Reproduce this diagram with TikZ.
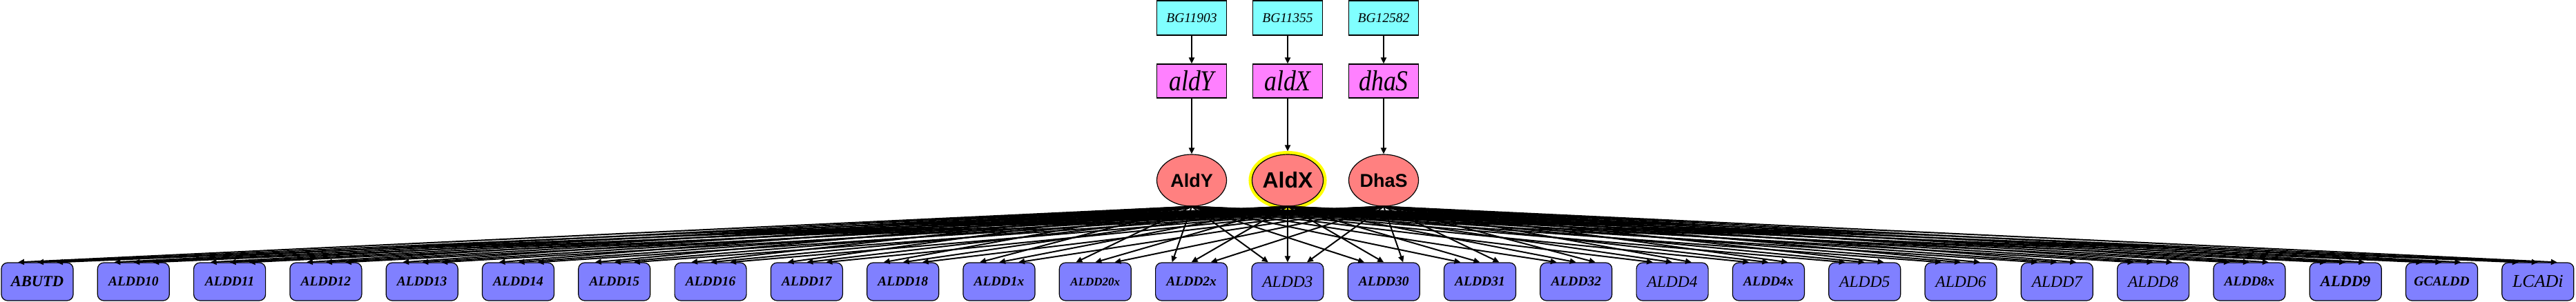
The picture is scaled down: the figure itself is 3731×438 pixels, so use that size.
\documentclass[tikz,border=0pt]{standalone}
\usepackage{fontspec}
\setmainfont{Liberation Serif}
\newfontfamily\arialfont{Liberation Sans}
\usetikzlibrary{shapes.geometric,arrows.meta}
\definecolor{cyanfill}{HTML}{80FFFF}
\definecolor{pinkfill}{HTML}{FF80FF}
\definecolor{salmonfill}{HTML}{FF8080}
\definecolor{bluefill}{HTML}{8080FF}
\definecolor{ringyellow}{HTML}{FFFF00}
\tikzset{
  genebox/.style={rectangle, draw=black, line width=1.2pt, fill=cyanfill, minimum width=101pt, minimum height=50pt, inner sep=0pt, font=\fontsize{19.5}{19.5}\selectfont\itshape},
  namebox/.style={rectangle, draw=black, line width=1.2pt, fill=pinkfill, minimum width=101pt, minimum height=49pt, inner sep=0pt, font=\fontsize{42}{42}\selectfont\itshape},
  protein/.style={ellipse, draw=black, line width=1.2pt, fill=salmonfill, minimum width=101pt, minimum height=75pt, inner sep=0pt},
  rxnbox/.style={rectangle, rounded corners=9pt, draw=black, line width=1.2pt, fill=bluefill, minimum width=104pt, minimum height=55pt, inner sep=0pt},
  fBold/.style={font=\fontsize{19.5}{19.5}\selectfont\bfseries\itshape},
  fBoldS/.style={font=\fontsize{17}{17}\selectfont\bfseries\itshape},
  fBoldL/.style={font=\fontsize{22.5}{22.5}\selectfont\bfseries\itshape},
  fReg/.style={font=\fontsize{23.5}{23.5}\selectfont\itshape},
  fRegL/.style={font=\fontsize{26}{26}\selectfont\itshape},
  edge/.style={draw=black, line width=2pt, -{Triangle[length=9pt,width=8pt]}},
}
\begin{document}
\begin{tikzpicture}[x=1pt,y=-1pt]
\fill[white] (0,0) rectangle (3731,438);
\useasboundingbox (0,0) rectangle (3731,438);
% genes
\node[genebox] (g1) at (1726,26) {BG11903};
\node[genebox] (g2) at (1865,26) {BG11355};
\node[genebox] (g3) at (2004,26) {BG12582};
\node[namebox] (n1) at (1726,117.5) {\scalebox{0.85}[1]{aldY}};
\node[namebox] (n2) at (1865,117.5) {\scalebox{0.85}[1]{aldX}};
\node[namebox] (n3) at (2004,117.5) {\scalebox{0.85}[1]{dhaS}};
\node[protein, font=\arialfont\bfseries\fontsize{27}{27}\selectfont] (AldY) at (1726,261.5) {AldY};
\node[protein, font=\arialfont\bfseries\fontsize{32}{32}\selectfont, preaction={draw=ringyellow, line width=10pt}] (AldX) at (1865,261.5) {AldX};
\node[protein, font=\arialfont\bfseries\fontsize{27}{27}\selectfont] (DhaS) at (2004,261.5) {DhaS};
\draw[edge] (g1) -- (n1);
\draw[edge] (g2) -- (n2);
\draw[edge] (g3) -- (n3);
\draw[edge] (n1) -- (AldY);
\draw[edge, shorten >=4pt] (n2) -- (AldX);
\draw[edge] (n3) -- (DhaS);
% reactions
\foreach \i/\t/\f in {0/ABUTD/fBoldL, 1/ALDD10/fBold, 2/ALDD11/fBold, 3/ALDD12/fBold, 4/ALDD13/fBold, 5/ALDD14/fBold, 6/ALDD15/fBold, 7/ALDD16/fBold, 8/ALDD17/fBold, 9/ALDD18/fBold, 10/ALDD1x/fBold, 11/ALDD20x/fBoldS, 12/ALDD2x/fBold, 13/ALDD3/fReg, 14/ALDD30/fBold, 15/ALDD31/fBold, 16/ALDD32/fBold, 17/ALDD4/fReg, 18/ALDD4x/fBold, 19/ALDD5/fReg, 20/ALDD6/fReg, 21/ALDD7/fReg, 22/ALDD8/fReg, 23/ALDD8x/fBold, 24/ALDD9/fBoldL, 25/GCALDD/fBold, 26/LCADi/fRegL}{
  \node[rxnbox,\f] (b\i) at ({54+\i*139.3},408.5) {\t};
}
\foreach \s/\o in {AldY/-28,AldX/0,DhaS/28}{
  \foreach \i in {0,...,26}{
    \draw[edge] (\s.south) -- ([xshift=\o pt]b\i.north);
  }
}
\end{tikzpicture}
\end{document}
